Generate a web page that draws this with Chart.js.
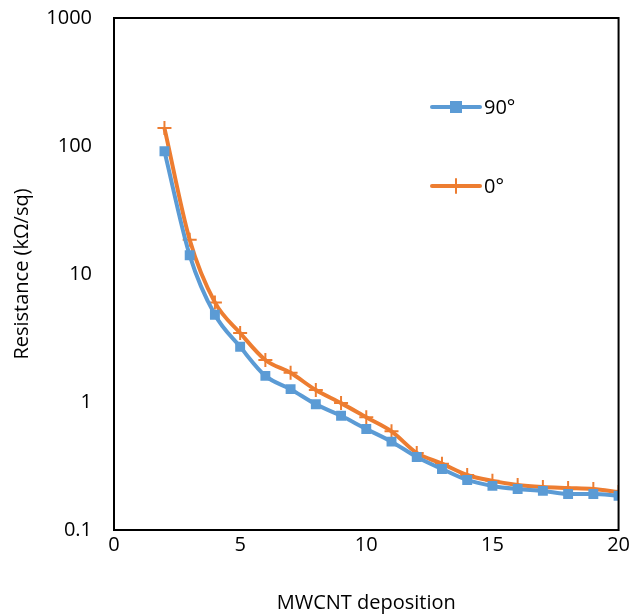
<!DOCTYPE html>
<html>
<head>
<meta charset="utf-8">
<script src="https://cdn.jsdelivr.net/npm/chart.js@4"></script>
<style>
  body { margin: 0; background: #fff; }
  #wrap { width: 633px; height: 615px; }
</style>
</head>
<body>
<div id="wrap"><canvas id="grafico" width="633" height="615"></canvas></div>
<script>
// dados
const deposicao = [2, 3, 4, 5, 6, 7, 8, 9, 10, 11, 12, 13, 14, 15, 16, 17, 18, 19, 20];
const resist90 = [91, 14, 4.8, 2.7, 1.6, 1.26, 0.96, 0.78, 0.615, 0.49, 0.372, 0.30, 0.246, 0.221, 0.209, 0.202, 0.191, 0.191, 0.185];
const resist0 = [138, 18.5, 6.0, 3.46, 2.13, 1.69, 1.24, 0.98, 0.76, 0.59, 0.40, 0.33, 0.269, 0.242, 0.225, 0.217, 0.213, 0.209, 0.198];
const ticksY = [0.1, 1, 10, 100, 1000];
const nomes = ['90°', '0°'];

const azul = '#5B9BD5';
const laranja = '#ED7D31';
const fonte = "'Open Sans', sans-serif";

function pontos(ys) {
    let p = [];
    for (let i = 0; i < deposicao.length; i++) {
        p.push({ x: deposicao[i], y: ys[i] });
    }
    return p;
}

// moldura do grafico + legenda
const moldura = {
    id: 'moldura',
    afterDraw(chart) {
        const ctx = chart.ctx;
        const a = chart.chartArea;
        ctx.save();
        ctx.strokeStyle = '#000';
        ctx.lineWidth = 2;
        ctx.strokeRect(a.left, a.top, a.right - a.left, a.bottom - a.top);

        // legenda manual
        const itens = [
            { cor: azul, y: 107, estilo: 'rect' },
            { cor: laranja, y: 186, estilo: 'cross' }
        ];
        itens.forEach(function (it, i) {
            ctx.strokeStyle = it.cor;
            ctx.lineWidth = 4;
            ctx.lineCap = 'round';
            ctx.beginPath();
            ctx.moveTo(432, it.y);
            ctx.lineTo(480, it.y);
            ctx.stroke();
            if (it.estilo === 'rect') {
                ctx.fillStyle = it.cor;
                ctx.fillRect(450, it.y - 6, 12, 12);
            } else {
                ctx.lineWidth = 2;
                ctx.beginPath();
                ctx.moveTo(456, it.y - 7);
                ctx.lineTo(456, it.y + 7);
                ctx.stroke();
            }
            ctx.fillStyle = '#000';
            ctx.font = '20px ' + fonte;
            ctx.textBaseline = 'middle';
            ctx.textAlign = 'left';
            ctx.fillText(nomes[i], 484, it.y + 1);
        });
        ctx.restore();
    }
};

const config = {
    type: 'line',
    data: {
        datasets: [{
            label: nomes[0],
            data: pontos(resist90),
            borderColor: azul,
            backgroundColor: azul,
            borderWidth: 4,
            pointStyle: 'rect',
            pointRadius: 7,
            pointBorderWidth: 0,
            cubicInterpolationMode: 'monotone'
        }, {
            label: nomes[1],
            data: pontos(resist0),
            borderColor: laranja,
            backgroundColor: laranja,
            borderWidth: 4,
            pointStyle: 'cross',
            pointRadius: 7,
            pointBorderWidth: 2,
            cubicInterpolationMode: 'monotone'
        }]
    },
    options: {
        responsive: false,
        animation: false,
        layout: { padding: { top: 18, right: 14, left: 0, bottom: 0 } },
        scales: {
            x: {
                type: 'linear',
                min: 0,
                max: 20,
                ticks: { stepSize: 5, color: '#000', font: { family: fonte, size: 20 }, padding: 3 },
                grid: { display: false, drawTicks: false },
                border: { display: true, color: '#000', width: 2 },
                title: { display: true, text: 'MWCNT deposition', color: '#000', font: { family: fonte, size: 20 }, padding: { top: 10, bottom: 0 } },
                afterFit(scale) { scale.height = 85; }
            },
            y: {
                type: 'logarithmic',
                min: 0.1,
                max: 1000,
                afterBuildTicks(scale) {
                    scale.ticks = ticksY.map(function (v) { return { value: v }; });
                },
                ticks: {
                    color: '#000',
                    font: { family: fonte, size: 20 },
                    padding: 22,
                    callback: function (v) { return String(v); }
                },
                grid: { display: false, drawTicks: false },
                border: { display: true, color: '#000', width: 2 },
                title: { display: true, text: 'Resistance (kΩ/sq)', color: '#000', font: { family: fonte, size: 20 }, padding: { top: 10, bottom: 6 } },
                afterFit(scale) {
                    scale.width = 114;
                    scale.paddingTop = 0;
                    scale.paddingBottom = 0;
                }
            }
        },
        plugins: {
            legend: { display: false },
            tooltip: { enabled: false }
        }
    },
    plugins: [moldura]
};

new Chart(document.getElementById('grafico').getContext('2d'), config);
</script>
</body>
</html>
